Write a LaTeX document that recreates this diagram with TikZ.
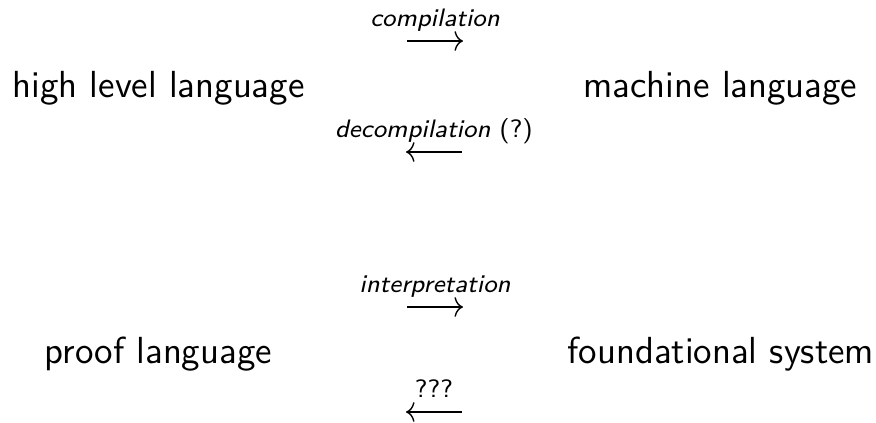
\documentclass[tikz,border=0pt]{standalone}
\usetikzlibrary{arrows.meta}
\begin{document}
\begin{tikzpicture}[x=0.305pt, y=-0.305pt,
  term/.style={anchor=base west, inner sep=0pt, font=\fontsize{11.5}{13.5}\selectfont\sffamily},
  arr/.style={line width=0.42pt, -{Computer Modern Rightarrow[length=2.6pt, width=6pt]}},
  lab/.style={anchor=base, inner sep=0pt, yshift=4.4pt, font=\fontsize{7.7}{9}\selectfont\sffamily}]
  \useasboundingbox (0,0) rectangle (876,422);

  % languages on both sides
  \node[term] (hll)  at (12,97)  {high level language};
  \node[term] (ml)   at (583,97) {machine language};
  \node[term] (pl)   at (44,363) {proof language};
  \node[term] (fs)   at (567,363) {foundational system};

  % end points of the translation arrows
  \coordinate (c1a) at (407,41);  \coordinate (c1b) at (463,41);
  \coordinate (c2a) at (462,152); \coordinate (c2b) at (406,152);
  \coordinate (c3a) at (407,307); \coordinate (c3b) at (463,307);
  \coordinate (c4a) at (462,412); \coordinate (c4b) at (406,412);

  \draw[arr] (c1a) -- (c1b) node[lab, pos=.5] {\itshape compilation};
  \draw[arr] (c2a) -- (c2b) node[lab, pos=.5] {\textit{decompilation} (?)};
  \draw[arr] (c3a) -- (c3b) node[lab, pos=.5] {\itshape interpretation};
  \draw[arr] (c4a) -- (c4b) node[lab, pos=.5] {???};
\end{tikzpicture}
\end{document}
